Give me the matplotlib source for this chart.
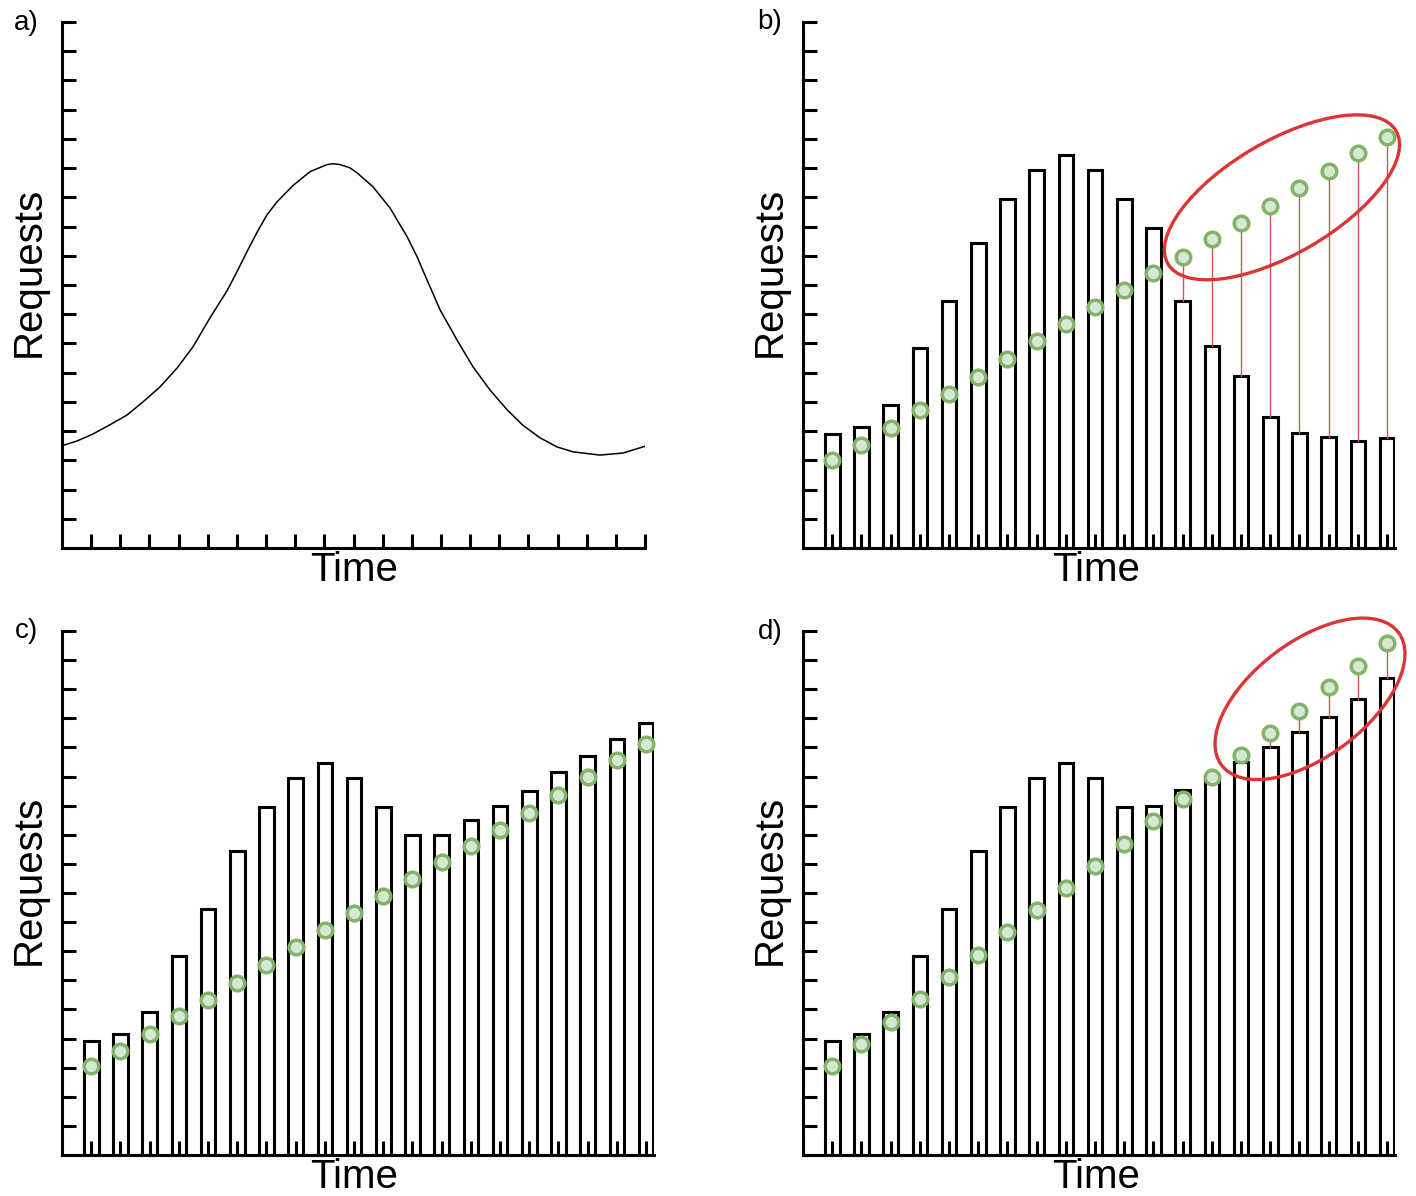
import matplotlib
matplotlib.use("Agg")
import matplotlib.pyplot as plt
from matplotlib.patches import Ellipse

plt.rcParams['font.family'] = ['Liberation Sans', 'DejaVu Sans']

# time slots (bar positions)
slots = list(range(1, 21))

# a) continuous request curve
curve_t = [0.0, 0.51, 1.06, 1.65, 2.23, 2.78, 3.36, 3.95, 4.49, 5.08, 5.66, 6.0,
           6.35, 6.69, 7.03, 7.38, 7.92, 8.51, 9.09, 9.3, 9.54, 9.88, 10.12, 10.67,
           11.25, 11.84, 12.18, 12.38, 12.97, 13.55, 14.1, 14.68, 15.27, 15.81, 16.4,
           16.98, 17.53, 18.46, 19.25, 19.93, 20.0]
curve_req = [3.5, 3.66, 3.9, 4.22, 4.55, 5.0, 5.51, 6.16, 6.88, 7.88, 8.8, 9.45,
             10.15, 10.8, 11.4, 11.85, 12.4, 12.88, 13.12, 13.15, 13.12, 13.01, 12.84, 12.36,
             11.64, 10.65, 9.97, 9.5, 8.15, 7.12, 6.2, 5.41, 4.73, 4.2, 3.77,
             3.46, 3.29, 3.18, 3.25, 3.46, 3.48]

# b) actual requests per slot and predicted (green) values
b_actual = [3.9, 4.15, 4.9, 6.85, 8.45, 10.45, 11.95, 12.95, 13.45, 12.95,
            11.95, 10.95, 8.45, 6.9, 5.9, 4.5, 3.95, 3.8, 3.65, 3.75]
b_pred = [3.01, 3.53, 4.11, 4.73, 5.27, 5.86, 6.47, 7.09, 7.67, 8.25,
          8.84, 9.42, 9.97, 10.58, 11.13, 11.71, 12.33, 12.91, 13.53, 14.08]

# c)
c_actual = [3.9, 4.15, 4.9, 6.85, 8.45, 10.45, 11.95, 12.95, 13.45, 12.95,
            11.95, 11.0, 11.0, 11.5, 12.0, 12.5, 13.15, 13.7, 14.3, 14.85]
c_pred = [3.06, 3.57, 4.16, 4.78, 5.33, 5.91, 6.53, 7.15, 7.73, 8.32,
          8.9, 9.48, 10.07, 10.62, 11.17, 11.75, 12.37, 12.99, 13.57, 14.12]

# d)
d_actual = [3.9, 4.15, 4.9, 6.85, 8.45, 10.45, 11.95, 12.95, 13.45, 12.95,
            11.95, 11.99, 12.54, 12.96, 13.5, 14.02, 14.54, 15.05, 15.67, 16.39]
d_pred = [3.06, 3.81, 4.57, 5.36, 6.12, 6.87, 7.66, 8.42, 9.18, 9.93,
          10.69, 11.48, 12.23, 12.99, 13.75, 14.5, 15.26, 16.08, 16.8, 17.59]

W, H = 1416, 1196
fig = plt.figure(figsize=(W / 100, H / 100), dpi=100)


def make_axes(left_px, bottom_px, width_px, height_px, xmax):
    ax = fig.add_axes([left_px / W, (H - bottom_px) / H, width_px / W, height_px / H])
    ax.set_xlim(0, xmax)
    ax.set_ylim(0, 18)
    ax.spines['top'].set_visible(False)
    ax.spines['right'].set_visible(False)
    ax.spines['left'].set_linewidth(2.2)
    ax.spines['bottom'].set_linewidth(2.2)
    ax.set_yticks(range(0, 19))
    ax.set_xticks(slots)
    ax.tick_params(direction='in', length=10, width=2.2, labelleft=False, labelbottom=False)
    return ax


def draw_bars(ax, actual, pred, lines=False):
    ax.bar(slots, actual, width=0.5, color='white', edgecolor='black', linewidth=2.2, zorder=1)
    if lines:
        # red gap lines where the prediction overshoots
        for t, a, p in zip(slots, actual, pred):
            if p > a:
                ax.plot([t, t], [a, p], color='#c85a5a', lw=1, zorder=3)
    ax.plot(slots, pred, 'o', ms=10.5, mfc='#d5e8d4', mec='#82b366', mew=2.5, zorder=4, clip_on=False)


# a)
ax_a = make_axes(62, 548, 583, 526, 20)
ax_a.plot(curve_t, curve_req, color='black', lw=1.1)

# b)
ax_b = make_axes(803, 548, 592, 526, 20.27)
draw_bars(ax_b, b_actual, b_pred, lines=True)
ax_b.add_patch(Ellipse((16.4, 12.0), 9.04, 3.87, angle=30.2, fill=False,
                       edgecolor='#dc3535', lw=2.4, clip_on=False, zorder=5))

# c)
ax_c = make_axes(62, 1155, 592, 524, 20.27)
draw_bars(ax_c, c_actual, c_pred)

# d)
ax_d = make_axes(803, 1155, 592, 524, 20.27)
draw_bars(ax_d, d_actual, d_pred, lines=True)
ax_d.add_patch(Ellipse((17.36, 15.67), 7.58, 3.95, angle=37, fill=False,
                       edgecolor='#dc3535', lw=2.4, clip_on=False, zorder=5))


def ftext(x, y, s, **kw):
    fig.text(x / W, 1 - y / H, s, ha='center', va='center', **kw)


for lab, (lx, ly), (rx, ry), (tx, ty) in [
        ('a)', (26, 23), (29, 272), (354, 570)),
        ('b)', (770, 22), (770, 272), (1096, 570)),
        ('c)', (26, 631), (29, 880), (354, 1177)),
        ('d)', (770, 632), (770, 880), (1096, 1177))]:
    ftext(lx, ly, lab, fontsize=20)
    ftext(rx, ry, 'Requests', fontsize=29, rotation=90)
    ftext(tx, ty, 'Time', fontsize=29)

fig.savefig('out.png', dpi=100)
